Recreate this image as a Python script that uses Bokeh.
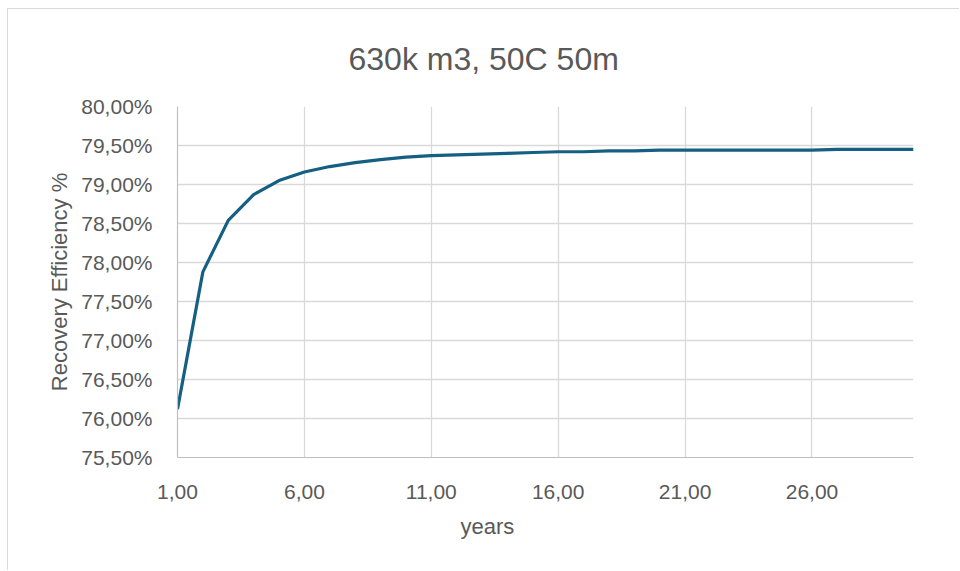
from bokeh.plotting import figure
from bokeh.models import FixedTicker, CustomJSTickFormatter, Range1d, Title
from bokeh.embed import file_html
from bokeh.resources import INLINE

# ---- data ----
years = list(range(1, 31))
recovery_pct = [76.12, 77.88, 78.54, 78.87, 79.05, 79.16, 79.23, 79.28, 79.32, 79.35,
                79.37, 79.38, 79.39, 79.40, 79.41, 79.42, 79.42, 79.43, 79.43, 79.44,
                79.44, 79.44, 79.44, 79.44, 79.44, 79.44, 79.45, 79.45, 79.45, 79.45]
x_ticks = [1, 6, 11, 16, 21, 26]
y_ticks = [75.5, 76.0, 76.5, 77.0, 77.5, 78.0, 78.5, 79.0, 79.5, 80.0]
title_text = "630k m3, 50C 50m"
x_label = "years"
y_label = "Recovery Efficiency %"

FONT = "Liberation Sans"
TXT = "#595959"

p = figure(width=952, height=562, output_backend="svg", toolbar_location=None,
           x_range=Range1d(1, 30), y_range=Range1d(75.5, 80.0),
           min_border_left=169, min_border_right=47, min_border_top=97, min_border_bottom=114,
           styles={"margin-left": "7px", "margin-top": "8px",
                   "border-left": "1px solid #d9d9d9", "border-top": "1px solid #d9d9d9"})

p.title = Title(text=title_text, align="left", offset=171, standoff=59, text_font=FONT,
                text_font_size="32px", text_font_style="normal", text_color=TXT)

p.line(years, recovery_pct, line_color="#156082", line_width=3.2)

p.outline_line_color = None
p.background_fill_color = "white"
p.border_fill_color = "white"

p.xaxis.ticker = FixedTicker(ticks=x_ticks)
p.yaxis.ticker = FixedTicker(ticks=y_ticks)
p.xaxis.formatter = CustomJSTickFormatter(code="return tick.toFixed(2).replace('.', ',');")
p.yaxis.formatter = CustomJSTickFormatter(code="return tick.toFixed(2).replace('.', ',') + '%';")

for ax in (p.xaxis, p.yaxis):
    ax.axis_line_color = "#bfbfbf"
    ax.axis_line_width = 1.2
    ax.major_tick_line_color = None
    ax.minor_tick_line_color = None
    ax.major_label_text_font = FONT
    ax.major_label_text_font_size = "21px"
    ax.major_label_text_color = TXT
    ax.axis_label_text_font = FONT
    ax.axis_label_text_font_size = "22px"
    ax.axis_label_text_font_style = "normal"
    ax.axis_label_text_color = TXT

# x-axis title centred on the whole chart (like the main title), not on the plot area
p.add_layout(Title(text=x_label, align="left", offset=283, standoff=21, text_font=FONT,
                   text_font_size="22px", text_font_style="normal", text_color=TXT), "below")
p.yaxis.axis_label = y_label
p.xaxis.major_label_standoff = 21
p.yaxis.major_label_standoff = 19
p.yaxis.axis_label_standoff = 6

p.xgrid.ticker = FixedTicker(ticks=x_ticks)
p.ygrid.ticker = FixedTicker(ticks=y_ticks)
p.xgrid.grid_line_color = "#d9d9d9"
p.ygrid.grid_line_color = "#d9d9d9"
p.xgrid.grid_line_width = 1.3
p.ygrid.grid_line_width = 1.3

open("out.html", "w").write(file_html(p, INLINE))
